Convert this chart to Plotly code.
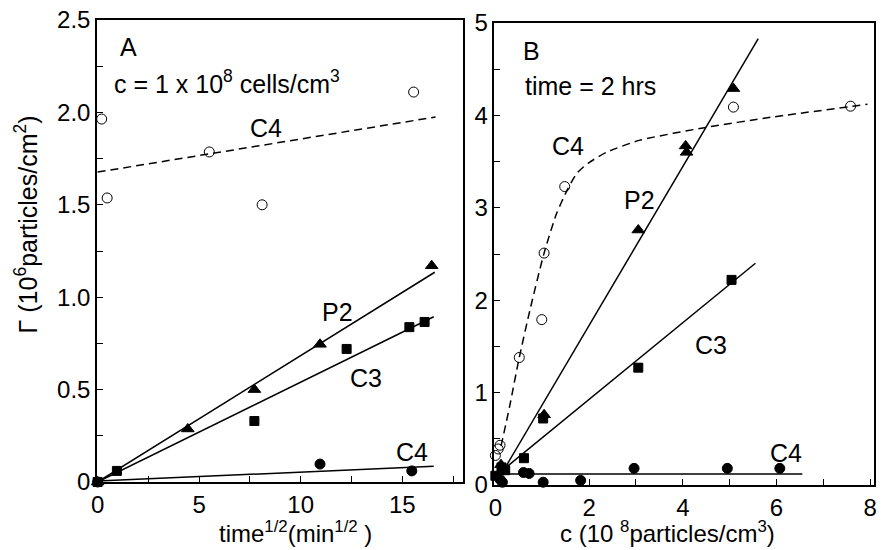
import plotly.graph_objects as go

# ---------------- Panel A data ----------------
a_open_x = [0.2, 0.47, 5.5, 8.1, 15.56]
a_open_y = [1.964, 1.537, 1.786, 1.50, 2.11]
a_tri_x = [0.0, 4.44, 7.72, 10.95, 16.45]
a_tri_y = [0.0, 0.287, 0.50, 0.745, 1.17]
a_sq_x = [0.0, 0.95, 7.72, 12.26, 15.35, 16.1]
a_sq_y = [0.0, 0.06, 0.33, 0.72, 0.838, 0.866]
a_dot_x = [0.0, 10.95, 15.47]
a_dot_y = [0.0, 0.097, 0.06]

a_fit_c4d_x = [0.0, 16.64]
a_fit_c4d_y = [1.677, 1.975]
a_fit_p2_x = [0.0, 16.6]
a_fit_p2_y = [0.0, 1.135]
a_fit_c3_x = [0.0, 16.55]
a_fit_c3_y = [0.0, 0.894]
a_fit_c4_x = [0.0, 16.55]
a_fit_c4_y = [0.005, 0.085]

# ---------------- Panel B data ----------------
b_open_x = [0.0, 0.06, 0.1, 0.51, 0.99, 1.04, 1.48, 5.08, 7.58]
b_open_y = [0.32, 0.39, 0.43, 1.38, 1.79, 2.51, 3.23, 4.09, 4.10]
b_tri_x = [0.12, 1.04, 3.05, 4.06, 4.08, 5.08]
b_tri_y = [0.22, 0.76, 2.76, 3.67, 3.60, 4.29]
b_sq_x = [0.0, 0.13, 0.21, 0.61, 1.02, 3.05, 5.04]
b_sq_y = [0.10, 0.19, 0.16, 0.29, 0.72, 1.27, 2.22]
b_dot_x = [0.1, 0.15, 0.6, 0.72, 1.02, 1.82, 2.96, 4.95, 5.02, 6.07]
b_dot_y = [0.06, 0.03, 0.135, 0.125, 0.03, 0.05, 0.18, 0.18, -0.015, 0.18]

b_curve_x = [0.12, 0.3, 0.51, 0.75, 1.04, 1.3, 1.54, 1.75, 2.0, 2.37, 3.07, 4.49, 5.88, 7.94]
b_curve_y = [0.42, 0.84, 1.38, 1.92, 2.51, 2.93, 3.2, 3.38, 3.49, 3.6, 3.73, 3.87, 3.98, 4.12]
b_fit_p2_x = [0.2, 5.61]
b_fit_p2_y = [0.18, 4.83]
b_fit_c3_x = [0.2, 5.55]
b_fit_c3_y = [0.18, 2.40]
b_fit_c4_x = [0.1, 6.55]
b_fit_c4_y = [0.12, 0.12]

# tick labels
a_y_ticks = [i * 0.25 for i in range(11)]
a_y_text = ['0', '', '0.5', '', '1.0', '', '1.5', '', '2.0', '', '2.5']
a_x_ticks = [i * 2.5 for i in range(8)]
a_x_text = ['0', '', '5', '', '10', '', '15', '']
b_y_ticks = [i * 0.5 for i in range(11)]
b_y_text = ['0', '', '1', '', '2', '', '3', '', '4', '', '5']
b_x_ticks = list(range(9))
b_x_text = ['0', '', '2', '', '4', '', '6', '', '8']

FONT = "Liberation Sans, Arial, sans-serif"
fig = go.Figure()

def line(x, y, xa, ya, dash='solid'):
    fig.add_trace(go.Scatter(x=x, y=y, mode='lines', xaxis=xa, yaxis=ya,
                             line=dict(color='black', width=1.5, dash=dash),
                             showlegend=False, hoverinfo='skip'))

def pts(x, y, xa, ya, symbol, size, fill='black'):
    fig.add_trace(go.Scatter(x=x, y=y, mode='markers', xaxis=xa, yaxis=ya,
                             marker=dict(symbol=symbol, size=size, color=fill,
                                         line=dict(color='black', width=1)),
                             showlegend=False, cliponaxis=False))

DASH = '8px,5px'
# Panel A
line(a_fit_c4d_x, a_fit_c4d_y, 'x', 'y', dash=DASH)
line(a_fit_p2_x, a_fit_p2_y, 'x', 'y')
line(a_fit_c3_x, a_fit_c3_y, 'x', 'y')
line(a_fit_c4_x, a_fit_c4_y, 'x', 'y')
pts(a_open_x, a_open_y, 'x', 'y', 'circle-open', 10, 'black')
pts(a_tri_x, a_tri_y, 'x', 'y', 'triangle-up', 11)
pts(a_sq_x, a_sq_y, 'x', 'y', 'square', 9)
pts(a_dot_x, a_dot_y, 'x', 'y', 'circle', 10)

# Panel B
fig.add_trace(go.Scatter(x=b_curve_x, y=b_curve_y, mode='lines', xaxis='x2', yaxis='y2',
                         line=dict(color='black', width=1.5, dash=DASH, shape='spline', smoothing=0.6),
                         showlegend=False, hoverinfo='skip'))
line(b_fit_p2_x, b_fit_p2_y, 'x2', 'y2')
line(b_fit_c3_x, b_fit_c3_y, 'x2', 'y2')
line(b_fit_c4_x, b_fit_c4_y, 'x2', 'y2')
pts(b_open_x, b_open_y, 'x2', 'y2', 'circle-open', 10, 'black')
pts(b_tri_x, b_tri_y, 'x2', 'y2', 'triangle-up', 11)
pts(b_sq_x, b_sq_y, 'x2', 'y2', 'square', 9)
pts(b_dot_x, b_dot_y, 'x2', 'y2', 'circle', 10)

axis_common = dict(showgrid=False, zeroline=False, showline=True, linecolor='black',
                   linewidth=1.5, mirror=True, ticks='inside', ticklen=6, tickwidth=1,
                   tickcolor='black', tickmode='array',
                   tickfont=dict(family=FONT, size=24, color='black'))

fig.update_layout(
    width=881, height=550,
    margin=dict(l=97, r=4, t=20, b=65),
    paper_bgcolor='white', plot_bgcolor='white',
    font=dict(family=FONT, color='black'),
    xaxis=dict(domain=[0, 0.4705], range=[-0.03, 17.97], anchor='y',
               tickvals=a_x_ticks, ticktext=a_x_text, **axis_common),
    yaxis=dict(domain=[0.00645, 1.0], range=[0, 2.5], anchor='x',
               tickvals=a_y_ticks, ticktext=a_y_text, **axis_common),
    xaxis2=dict(domain=[0.5115, 1.0], range=[-0.02, 8.08], anchor='y2',
                tickvals=b_x_ticks, ticktext=b_x_text, **axis_common),
    yaxis2=dict(domain=[0.0, 0.9935], range=[0, 5], anchor='x2',
                tickvals=b_y_ticks, ticktext=b_y_text, **axis_common),
)

def ann(text, x, y, xref, yref, size=25, xanchor='center', angle=0):
    fig.add_annotation(text=text, x=x, y=y, xref=xref, yref=yref, showarrow=False,
                       xanchor=xanchor, yanchor='middle', textangle=angle,
                       font=dict(family=FONT, size=size, color='black'))

# Panel A labels
ann('A', 1.5, 2.354, 'x', 'y')
ann('c = 1 x 10<sup>8</sup> cells/cm<sup>3</sup>', 0.7, 2.165, 'x', 'y', size=25, xanchor='left')
ann('C4', 8.3, 1.915, 'x', 'y')
ann('P2', 11.8, 0.92, 'x', 'y')
ann('C3', 13.2, 0.563, 'x', 'y')
ann('C4', 15.47, 0.162, 'x', 'y')

# Panel B labels
ann('B', 0.78, 4.70, 'x2', 'y2')
ann('time = 2 hrs', 0.6, 4.32, 'x2', 'y2', size=25, xanchor='left')
ann('C4', 1.54, 3.67, 'x2', 'y2')
ann('P2', 3.07, 3.08, 'x2', 'y2')
ann('C3', 4.61, 1.51, 'x2', 'y2')
ann('C4', 6.2, 0.35, 'x2', 'y2')

# Axis titles
ann('Γ (10<sup>6</sup>particles/cm<sup>2</sup>)', -0.091, 0.561, 'paper', 'paper', size=25, angle=-90)
ann('time<sup>1/2</sup>(min<sup>1/2</sup> )', 0.1538, -0.101, 'paper', 'paper', size=24, xanchor='left')
ann('c (10 <sup>8</sup>particles/cm<sup>3</sup>)', 0.5936, -0.101, 'paper', 'paper', size=24, xanchor='left')

fig.write_html("out.html")
